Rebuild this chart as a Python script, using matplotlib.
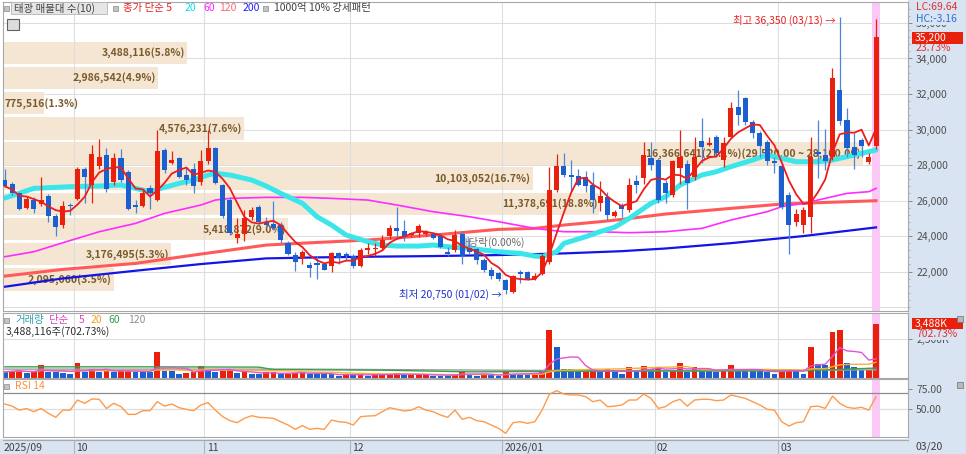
"""Daily chart 태광: candles with volume profile, volume panel and RSI panel."""

import matplotlib
matplotlib.use("Agg")
import matplotlib.pyplot as plt
from matplotlib.patches import Rectangle
from matplotlib.ticker import FixedLocator, FuncFormatter, MultipleLocator
import numpy as np
import pandas as pd

plt.rcParams["font.family"] = ["Noto Sans CJK KR", "DejaVu Sans"]

W, H = 966, 454
FS = 7.5

# --- data (index 0 = 2025/09/17, last = 2026/03/20) ---
OPEN = [27150, 26950, 26400, 25600, 26050, 25800, 26250, 25150, 24600, 25750,
        26100, 27750, 26900, 27950, 28550, 27050, 28400, 27600, 25750, 25700,
        26700, 26050, 28850, 28100, 28400, 27450, 27750, 27050, 28200, 28950,
        26850, 26050, 23900, 24100, 25100, 25650, 24800, 24700, 24600, 23600,
        22950, 22750, 22350, 22500, 22400, 22300, 23050, 23000, 22850, 22300,
        23200, 23250, 23300, 24000, 24450, 24300, 24050, 24200, 24100, 24100,
        24000, 23100, 23200, 24100, 23350, 23250, 22650, 22100, 21900, 21500,
        20850, 21950, 22000, 21600, 21850, 22550, 26600, 27950, 27450, 27400,
        27350, 26850, 25850, 26200, 25150, 25750, 25450, 27100, 27250, 28400,
        28300, 27000, 26300, 27850, 28050, 27350, 29350, 29150, 29550, 28300,
        29600, 31250, 31800, 30450, 29800, 29300, 28200, 27950, 26300, 24800,
        24600, 25050, 28750, 28550, 28450, 32250, 30550, 29000, 29400, 28150,
        29050]
HIGH = [27750, 27050, 26500, 26250, 26200, 27350, 26350, 25250, 25950, 25850,
        27900, 27900, 29150, 29450, 28950, 28700, 28900, 27700, 26050, 26650,
        26850, 29950, 28950, 28800, 28450, 27900, 28100, 28850, 29950, 29000,
        26950, 26200, 25000, 25450, 25650, 25750, 25100, 26000, 24800, 23700,
        23100, 23200, 22550, 22850, 22550, 23100, 23100, 23100, 23000, 23300,
        23600, 23600, 24050, 24600, 25650, 24900, 24250, 24700, 24350, 24250,
        24150, 23400, 24350, 24300, 23850, 23300, 22750, 22250, 22000, 21600,
        21800, 22100, 22050, 21900, 23000, 27900, 28600, 28650, 28300, 27800,
        27650, 27600, 27100, 26500, 25450, 25850, 27250, 27450, 29300, 29300,
        28400, 27150, 28300, 29950, 28300, 29600, 30650, 29600, 29700, 29600,
        31550, 32250, 31850, 30550, 29900, 29400, 28450, 28100, 26500, 25550,
        25650, 29550, 30550, 30050, 33450, 36350, 31200, 29800, 29500, 28650,
        36200]
LOW = [26750, 26300, 25450, 25500, 25300, 25700, 24800, 24000, 24450, 25200,
       26050, 25850, 25850, 27800, 26500, 26850, 27050, 25450, 25300, 25650,
       25500, 26000, 27550, 28050, 27250, 26850, 26450, 26850, 28050, 26950,
       25000, 24050, 23600, 23700, 24900, 24700, 24550, 24350, 23600, 22950,
       22050, 22450, 21700, 21600, 22100, 21950, 22450, 22600, 22200, 22250,
       23000, 22850, 23200, 23850, 23850, 23700, 23950, 23950, 24000, 23850,
       23300, 22850, 23100, 22450, 23000, 22450, 22000, 21600, 21450, 20750,
       20800, 21350, 21500, 21500, 21800, 22450, 26500, 27350, 26500, 26800,
       26500, 25300, 25400, 24900, 25100, 25100, 25350, 26400, 26950, 27700,
       25850, 25850, 26200, 26950, 25500, 27150, 28100, 29050, 28450, 27900,
       29500, 30250, 30250, 29500, 28450, 28000, 27550, 25550, 23000, 24550,
       24150, 24150, 27250, 27700, 28300, 30250, 28450, 27800, 28450, 28050,
       28900]
CLOSE = [26800, 26450, 25550, 26100, 25500, 26050, 25150, 24500, 25700, 25700,
         27800, 27350, 28600, 28450, 26650, 28400, 27150, 25550, 25650, 26400,
         26400, 28800, 27700, 28300, 27350, 27150, 26800, 28200, 28950, 27000,
         25150, 24150, 24100, 25000, 25450, 24800, 24600, 24450, 23750, 23000,
         22550, 23100, 22200, 22350, 22100, 23050, 22750, 22850, 22300, 23200,
         23300, 23350, 23800, 24450, 24300, 23950, 24150, 24550, 24250, 23900,
         23400, 23000, 24050, 22850, 23100, 22650, 22100, 21750, 21600, 20950,
         21750, 21850, 21600, 21750, 22850, 26600, 27950, 27450, 27350, 26850,
         26800, 26050, 26250, 25200, 25350, 25550, 26850, 26850, 28550, 28000,
         26050, 26450, 28200, 28450, 27000, 28450, 29000, 29250, 28700, 29250,
         31200, 30800, 30400, 29800, 29050, 28200, 28100, 25650, 24600, 25250,
         25450, 28450, 28600, 28200, 32900, 30500, 28950, 28550, 29050, 28450,
         35200]
# volume in millions of shares
VOLUME = [0.37, 0.44, 0.48, 0.31, 0.35, 0.79, 0.37, 0.36, 0.31, 0.22,
          0.92, 0.37, 0.59, 0.37, 0.44, 0.37, 0.46, 0.48, 0.35, 0.34,
          0.33, 1.64, 0.44, 0.42, 0.26, 0.31, 0.37, 0.75, 0.59, 0.37,
          0.44, 0.48, 0.31, 0.37, 0.22, 0.21, 0.35, 0.36, 0.22, 0.26,
          0.31, 0.37, 0.22, 0.22, 0.22, 0.21, 0.09, 0.22, 0.18, 0.22,
          0.13, 0.18, 0.22, 0.26, 0.27, 0.15, 0.18, 0.19, 0.20, 0.13,
          0.12, 0.11, 0.26, 0.44, 0.18, 0.13, 0.18, 0.15, 0.13, 0.37,
          0.26, 0.25, 0.22, 0.26, 0.44, 3.11, 2.02, 0.59, 0.58, 0.35,
          0.37, 0.53, 0.37, 0.53, 0.37, 0.26, 0.70, 0.37, 0.75, 0.59,
          0.66, 0.37, 0.48, 0.92, 0.37, 0.70, 0.48, 0.44, 0.37, 0.48,
          0.81, 0.48, 0.44, 0.43, 0.42, 0.37, 0.26, 0.53, 0.59, 0.44,
          0.26, 1.97, 0.88, 0.81, 3.00, 3.11, 0.92, 0.70, 0.48, 0.496365,
          3.488116]
RSI = [56.6, 54, 49, 51, 47, 51, 45, 40, 49, 49,
       61.6, 57.5, 62.9, 62.5, 51, 57.5, 53.3, 43.7, 43.7, 48.3,
       48.3, 59.5, 54, 56.6, 52, 50, 48.3, 55.4, 58.3, 49,
       40.8, 35.8, 33.3, 38.7, 42, 40, 39.5, 38.7, 34.5, 30.4,
       25, 29.6, 25, 26.2, 25, 36.6, 34.5, 33.7, 30.4, 40.8,
       41.6, 42, 47, 52, 50, 47.9, 49, 53.3, 49, 47,
       42.9, 40, 49, 37.5, 40, 35.8, 34.5, 30.4, 26.2, 20,
       33.3, 34.5, 32.5, 34.5, 49, 68.7, 73.3, 69, 67.9, 67.9,
       65.8, 59.5, 61.6, 53.3, 54, 55.4, 61.6, 61.6, 69, 63.7,
       51.2, 53.3, 59.5, 62.5, 54, 61.6, 62.5, 62.5, 60.8, 61.6,
       67.9, 65.8, 63.7, 59.5, 55.4, 50, 49, 34.5, 29.1, 33.3,
       34.5, 53.3, 54, 51.2, 66.6, 57.5, 52.5, 51.2, 52.5, 49,
       65.8]

# longer moving averages, read at a few candles
MA20_IDX = [0, 4, 9, 13, 16, 18, 20, 22, 24, 26, 28, 29, 31, 34, 36, 38, 41, 43, 45, 47,
            50, 52, 54, 57, 59, 61, 64, 66, 68, 71, 73, 74, 76, 77, 80, 82, 84, 86, 89, 91,
            93, 96, 98, 100, 103, 105, 107, 109, 112, 114, 116, 118, 120]
MA20_VAL = [26140, 26686, 26780, 26817, 26874, 26686, 26498, 26742, 26967, 27155, 27437, 27531,
            27437, 27155, 26817, 26404, 25840, 25090, 24620, 24057, 23681, 23493, 23437, 23437,
            23493, 23399, 23305, 23211, 23117, 23023, 22873, 22836, 23117, 23587, 23963, 24250,
            24500, 24995, 25841, 26216, 26873, 27437, 27625, 27906, 28282, 28564, 28376, 28188,
            28188, 28282, 28470, 28658, 28846]
MA60_IDX = [0, 4, 8, 13, 18, 22, 27, 29, 31, 36, 41, 45, 50, 54, 59, 64, 68, 73, 77, 82,
            86, 91, 96, 100, 105, 107, 110, 112, 114, 116, 119, 120]
MA60_VAL = [22836, 23117, 23624, 24244, 24714, 25277, 25747, 26028, 26122, 26179, 26179,
            26122, 26028, 25747, 25371, 25089, 24808, 24432, 24244, 24244, 24188, 24244,
            24432, 24902, 25371, 25653, 25841, 26029, 26216, 26404, 26498, 26686]
MA120_IDX = [0, 8, 18, 27, 36, 41, 50, 59, 68, 73, 77, 82, 85, 91, 100, 107, 112, 120]
MA120_VAL = [21746, 22122, 22460, 22986, 23493, 23600, 23775, 24056, 24376, 24432, 24620,
             24808, 24939, 25240, 25559, 25803, 25878, 25991]
MA200_IDX = [0, 8, 18, 27, 36, 43, 50, 59, 68, 77, 85, 91, 100, 110, 120]
MA200_VAL = [21146, 21615, 22047, 22423, 22742, 22798, 22836, 22873, 22930, 23023, 23150,
             23300, 23600, 24000, 24488]
VOL_MA60_IDX = [0, 20, 35, 37, 52, 64, 75, 90, 110, 120]
VOL_MA60_VAL = [0.70, 0.70, 0.68, 0.52, 0.48, 0.37, 0.40, 0.42, 0.44, 0.62]
VOL_MA120_IDX = [0, 40, 60, 80, 100, 120]
VOL_MA120_VAL = [0.55, 0.55, 0.50, 0.45, 0.45, 0.50]

MONTH_START = [10, 28, 48, 69, 90, 107]
MONTH_LABEL = ["10", "11", "12", "2026/01", "02", "03"]

# volume profile (10 price bands, bottom to top)
PROFILE_SHARES = [2095060, 3176495, 5418872, 11378691, 10103052, 16366641,
                  4576231, 775516, 2986542, 3488116]
PROFILE_PCT = [3.5, 5.3, 9.0, 18.8, 16.7, 27.1, 7.6, 1.3, 4.9, 5.8]
PROFILE_LOW = 20850
PROFILE_STEP = 1418
PROFILE_MAX_RANGE = (29520, 28100)

HI_IDX, HI_DATE = 115, "03/13"
LO_IDX, LO_DATE = 69, "01/02"
EXDIV_IDX = 62.6
LAST_DATE = "03/20"

RED = "#e8200c"
BLUE = "#1c5fcf"
BLUE_WICK = "#4a85dc"
AXIS_BG = "#d9e4f2"
GRID = "#dedede"
BEIGE = "#f4e6d3"
PINK = "#fcc8f6"
XLIM = (-0.25, 124.4)


def box(x0, y0, x1, y1):
    return [x0 / W, 1 - y1 / H, (x1 - x0) / W, (y1 - y0) / H]


def px_rect(fig, x0, y0, x1, y1, **kw):
    rect = Rectangle((x0 / W, 1 - y1 / H), (x1 - x0) / W, (y1 - y0) / H,
                     transform=fig.transFigure, **kw)
    fig.patches.append(rect)
    return rect


def px_text(fig, x, y, s, **kw):
    kw.setdefault("fontsize", FS)
    kw.setdefault("va", "center")
    kw.setdefault("ha", "left")
    return fig.text(x / W, 1 - y / H, s, **kw)


def icon(fig, x, y):
    px_rect(fig, x, y - 2.5, x + 5, y + 2.5, facecolor="#c4c4c4",
            edgecolor="#8a8a8a", linewidth=0.5, zorder=5)


def style_panel(ax, ylim):
    ax.set_xlim(*XLIM)
    ax.set_ylim(*ylim)
    ax.set_xticks([])
    ax.yaxis.tick_right()
    ax.tick_params(axis="y", which="major", length=3, width=0.6, color="#7a7a7a",
                   labelsize=FS, labelcolor="#505050", pad=2.8)
    ax.tick_params(axis="y", which="minor", length=1.6, width=0.5, color="#9a9a9a")
    for sp in ax.spines.values():
        sp.set_color("#a8a8a8")
        sp.set_linewidth(0.8)
    for b in MONTH_START:
        ax.axvline(b - 0.5, color=GRID, linewidth=0.8, zorder=0.5)
    ax.axvspan(len(CLOSE) - 1.5, len(CLOSE) - 0.5, color=PINK, linewidth=0, zorder=0.3)


def draw_profile(ax):
    full = 118.4  # candle units of the widest band
    top = max(PROFILE_PCT)
    for k, (shares, pct) in enumerate(zip(PROFILE_SHARES, PROFILE_PCT)):
        lo = PROFILE_LOW + k * PROFILE_STEP
        mid = lo + PROFILE_STEP / 2
        width = pct / top * full
        ax.barh(mid, width, left=XLIM[0], height=PROFILE_STEP - 150, color=BEIGE,
                linewidth=0, zorder=0.4)
        label = f"{shares:,}({pct:.1f}%)"
        if pct == top:
            label += f"({PROFILE_MAX_RANGE[0]:,.2f} ~ {PROFILE_MAX_RANGE[1]:,.2f})"
        if width * 7.26 > 100:
            ax.text(XLIM[0] + width - 0.3, mid, label, ha="right", va="center",
                    fontsize=FS, color="#7b5a2a", fontweight="bold", zorder=1)
        else:
            ax.text(XLIM[0] + 0.15, mid, label, ha="left", va="center",
                    fontsize=FS, color="#7b5a2a", fontweight="bold", zorder=1)


def draw_candles(ax, x):
    o, h, l, c = (np.asarray(a, float) for a in (OPEN, HIGH, LOW, CLOSE))
    up = c >= o
    body_col = np.where(up, RED, BLUE)
    wick_col = np.where(up, RED, BLUE_WICK)
    ax.vlines(x, l, h, colors=wick_col, linewidth=0.9, zorder=3)
    ax.bar(x, np.maximum(np.abs(c - o), 45), bottom=np.minimum(o, c), width=0.7,
           color=body_col, linewidth=0, zorder=3.2)


def main():
    x = np.arange(len(CLOSE))
    close = pd.Series(CLOSE, dtype=float)
    vol = pd.Series(VOLUME, dtype=float)

    fig = plt.figure(figsize=(W / 100, H / 100), dpi=100)
    px_rect(fig, 908, 0, W, H, facecolor=AXIS_BG, edgecolor="none", zorder=-1)
    px_rect(fig, 0, 439, W, H, facecolor=AXIS_BG, edgecolor="none", zorder=-1)

    ax_p = fig.add_axes(box(3, 2, 908, 311))
    ax_v = fig.add_axes(box(3, 313, 908, 377.5))
    ax_r = fig.add_axes(box(3, 378.5, 908, 437))
    ax_d = fig.add_axes(box(3, 439.5, 908, 454))

    # --- price panel ---
    style_panel(ax_p, (19780, 37180))
    ax_p.yaxis.set_major_locator(FixedLocator(range(22000, 36001, 2000)))
    ax_p.yaxis.set_minor_locator(MultipleLocator(400))
    ax_p.yaxis.set_major_formatter(FuncFormatter(lambda v, _: f"{v:,.0f}"))
    for lev in range(20000, 36001, 2000):
        ax_p.axhline(lev, color=GRID, linewidth=0.8, zorder=0.2)
    draw_profile(ax_p)

    ax_p.plot(MA200_IDX, MA200_VAL, color="#1414e6", linewidth=1.6, zorder=2)
    ax_p.plot(MA120_IDX, MA120_VAL, color="#ff5a5a", linewidth=2.2, zorder=2)
    ax_p.plot(MA60_IDX, MA60_VAL, color="#ff2cff", linewidth=1.2, zorder=2)
    ax_p.plot(MA20_IDX, MA20_VAL, color="#3ae6ea", linewidth=3.6, zorder=2.1,
              solid_capstyle="round")
    draw_candles(ax_p, x)
    ax_p.plot(x, close.rolling(5, min_periods=1).mean(), color="#ee1c1c",
              linewidth=1.3, zorder=4)

    hi = HIGH[HI_IDX]
    lo = LOW[LO_IDX]
    ax_p.text(HI_IDX - 0.6, hi - 190, f"최고 {hi:,} ({HI_DATE}) →", ha="right",
              va="center", fontsize=FS, color="#e82020", zorder=5)
    ax_p.text(LO_IDX - 0.6, lo - 40, f"최저 {lo:,} ({LO_DATE}) →", ha="right",
              va="center", fontsize=FS, color="#2030d0", zorder=5)
    ax_p.text(EXDIV_IDX, 23660, "배당락(0.00%)", ha="left", va="center",
              fontsize=FS, color="#6a6a6a", zorder=2.5)

    # --- volume panel ---
    style_panel(ax_v, (0, 4.23))
    ax_v.yaxis.set_major_locator(FixedLocator([2.5]))
    ax_v.yaxis.set_major_formatter(FuncFormatter(lambda v, _: f"{v * 1000:,.0f}K"))
    ax_v.axhline(2.5, color=GRID, linewidth=0.8, zorder=0.2)
    vcol = [RED if i > 0 and VOLUME[i] > VOLUME[i - 1] else BLUE for i in range(len(VOLUME))]
    ax_v.bar(x, VOLUME, width=0.8, color=vcol, linewidth=0, zorder=2)
    ax_v.plot(VOL_MA120_IDX, VOL_MA120_VAL, color="#9a9a9a", linewidth=1, zorder=3)
    ax_v.plot(VOL_MA60_IDX, VOL_MA60_VAL, color="#3aa050", linewidth=1, zorder=3)
    ax_v.plot(x, vol.rolling(20, min_periods=1).mean(), color="#f2b233", linewidth=1, zorder=3)
    ax_v.plot(x, vol.rolling(5, min_periods=1).mean(), color="#e055d5", linewidth=1, zorder=3)

    # --- RSI panel ---
    style_panel(ax_r, (15.4, 88.5))
    ax_r.yaxis.set_major_locator(FixedLocator([50, 75]))
    ax_r.yaxis.set_major_formatter(FuncFormatter(lambda v, _: f"{v:.2f}"))
    ax_r.axhline(70, color="#8c8c8c", linewidth=0.9, zorder=0.6)
    ax_r.axhline(50, color=GRID, linewidth=0.9, zorder=0.6)
    ax_r.plot(x, RSI, color="#ff9a4a", linewidth=1.0, zorder=3)

    # --- date strip ---
    ax_d.set_xlim(*XLIM)
    ax_d.set_ylim(0, 1)
    ax_d.set_facecolor(AXIS_BG)
    ax_d.set_xticks([])
    ax_d.set_yticks([])
    for name, sp in ax_d.spines.items():
        sp.set_visible(name == "top")
        sp.set_color("#a8a8a8")
    ax_d.text(XLIM[0] + 0.1, 0.42, "2025/09", ha="left", va="center", fontsize=FS,
              color="#404040")
    for b, lab in zip(MONTH_START, MONTH_LABEL):
        ax_d.axvline(b - 0.5, color="#b4b4b4", linewidth=0.8)
        ax_d.text(b - 0.2, 0.42, lab, ha="left", va="center", fontsize=FS, color="#404040")
    px_text(fig, 916, 447, LAST_DATE, color="#404040")

    # --- header texts ---
    icon(fig, 4, 8)
    px_rect(fig, 11, 2, 107, 14, facecolor="#e6e6e6", edgecolor="#b4b4b4",
            linewidth=0.6, zorder=4)
    px_text(fig, 14, 8, "태광 매물대 수(10)", color="#404040", zorder=6)
    icon(fig, 113, 8)
    for xx, s, col in [(123, "종가 단순 5", "#e82020"), (185, "20", "#10d8e8"),
                       (203, "60", "#ff20ff"), (219, "120", "#ff6a6a"),
                       (243, "200", "#2020ff")]:
        px_text(fig, xx, 8, s, color=col)
    icon(fig, 263, 8)
    px_text(fig, 274, 8, "1000억 10% 강세패턴", color="#404040")
    px_rect(fig, 7, 19, 19, 30, facecolor="#dcdcdc", edgecolor="#606060",
            linewidth=0.8, zorder=5)

    vol_ratio = VOLUME[-1] / VOLUME[-2] * 100
    icon(fig, 4, 320)
    for xx, s, col in [(15, "거래량", "#30a0a8"), (49, "단순", "#e040c0"),
                       (79, "5", "#e040c0"), (91, "20", "#f0a020"),
                       (108, "60", "#30a050"), (128, "120", "#909090")]:
        px_text(fig, xx, 320, s, color=col)
    px_text(fig, 6, 332, f"{VOLUME[-1] * 1e6:,.0f}주({vol_ratio:.2f}%)", color="#303030")
    icon(fig, 4, 386)
    px_text(fig, 15, 386, "RSI 14", color="#ff9040")

    # --- right column labels ---
    last, prev = CLOSE[-1], CLOSE[-2]
    px_text(fig, 916, 7.5, f"LC:{(last - lo) / lo * 100:.2f}", color="#e03030")
    px_text(fig, 916, 18.5, f"HC:{(last - hi) / hi * 100:.2f}", color="#3070d0",
            bbox=dict(boxstyle="square,pad=0.1", facecolor=AXIS_BG, edgecolor="none"))
    px_rect(fig, 912, 31.5, 963, 43.5, facecolor=RED, edgecolor="none", zorder=4)
    px_text(fig, 915, 37.5, f"{last:,}", color="white", zorder=6)
    px_text(fig, 916, 48, f"{(last - prev) / prev * 100:.2f}%", color="#e03030")

    px_rect(fig, 912, 318, 963, 329, facecolor=RED, edgecolor="none", zorder=4)
    px_text(fig, 915, 323.5, f"{VOLUME[-1] * 1000:,.0f}K", color="white", zorder=6)
    px_text(fig, 916, 334, f"{vol_ratio:.2f}%", color="#e03030",
            bbox=dict(boxstyle="square,pad=0.05", facecolor=AXIS_BG, edgecolor="none"))
    for yy in (318.5, 385):
        px_rect(fig, 957, yy - 3, 963, yy + 3, facecolor="#b8b8b8", edgecolor="#707070",
                linewidth=0.5, zorder=5)

    fig.savefig("out.png", dpi=100, facecolor="white")
    plt.close(fig)


if __name__ == "__main__":
    main()
